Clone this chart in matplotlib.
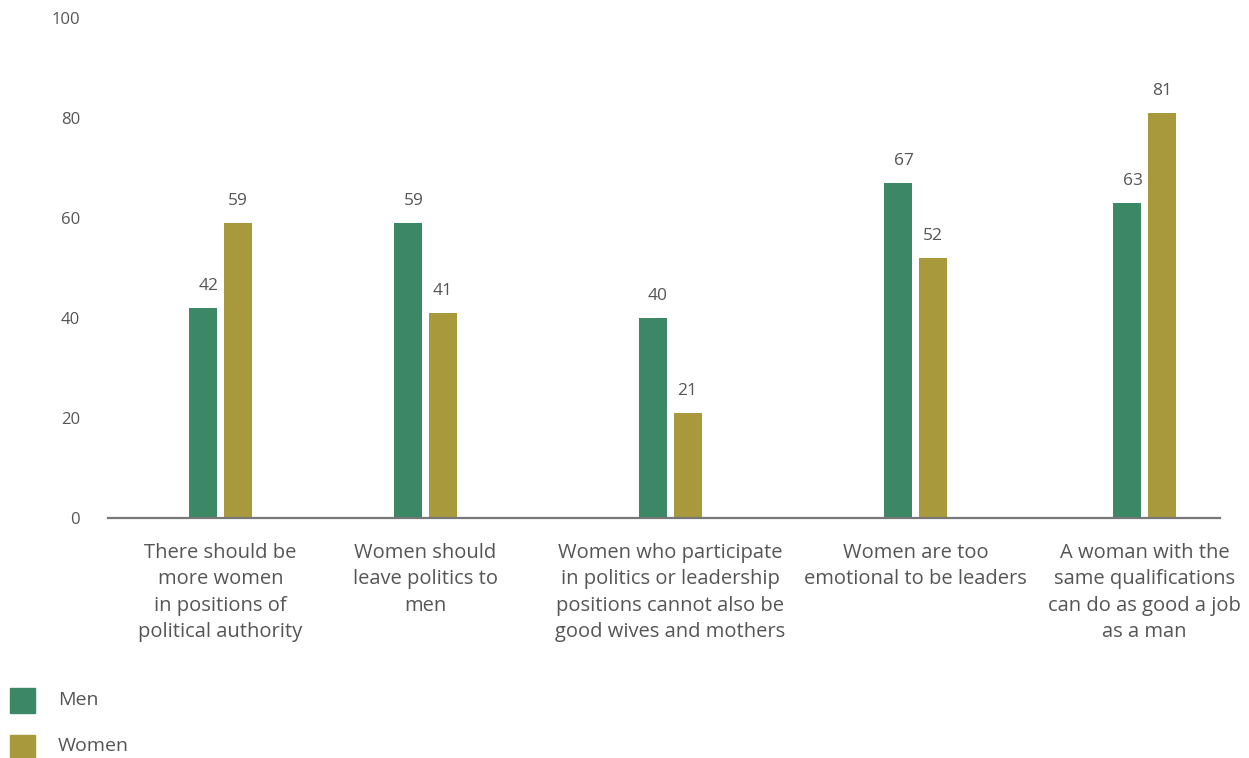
import matplotlib.pyplot as plt
from matplotlib.patches import Rectangle

plt.rcParams['font.family'] = ['Open Sans', 'DejaVu Sans']

categories = [
    "There should be\nmore women\nin positions of\npolitical authority",
    "Women should\nleave politics to\nmen",
    "Women who participate\nin politics or leadership\npositions cannot also be\ngood wives and mothers",
    "Women are too\nemotional to be leaders",
    "A woman with the\nsame qualifications\ncan do as good a job\nas a man",
]
men = [42, 59, 40, 67, 63]
women = [59, 41, 21, 52, 81]
yticks = [0, 20, 40, 60, 80, 100]

# group centres (pixels from the left end of the axis line), uneven like the original
centres = [112.5, 317.5, 562, 807.5, 1036.5]
bar_w = 28
off = 17.5

green = '#3b8766'
olive = '#a89a3c'
grey = '#555555'

fig = plt.figure(figsize=(12.49, 7.58), dpi=100)
ax = fig.add_axes([108 / 1249, 240 / 758, 1112 / 1249, 500 / 758])

xm = [c - off for c in centres]
xw = [c + off for c in centres]
ax.bar(xm, men, width=bar_w, color=green)
ax.bar(xw, women, width=bar_w, color=olive)

for x, v in zip(xm, men):
    ax.annotate(str(v), (x, v), xytext=(4, 10), textcoords='offset points',
                ha='center', va='bottom', fontsize=12.5, color=grey)
for x, v in zip(xw, women):
    ax.annotate(str(v), (x, v), xytext=(0, 10), textcoords='offset points',
                ha='center', va='bottom', fontsize=12.5, color=grey)

ax.set_xlim(0, 1112)
ax.set_ylim(0, 100)
ax.set_yticks(yticks)
ax.set_yticklabels([str(t) for t in yticks], fontsize=12, color=grey)
ax.tick_params(axis='y', length=0, pad=20)
ax.set_xticks(centres)
ax.set_xticklabels(categories, fontsize=14.5, color=grey, linespacing=1.43)
ax.tick_params(axis='x', length=0, pad=18)

for s in ['top', 'right', 'left']:
    ax.spines[s].set_visible(False)
ax.spines['bottom'].set_color('#777777')
ax.spines['bottom'].set_linewidth(1.6)

# legend
fig.patches.append(Rectangle((10 / 1249, 1 - 713 / 758), 25 / 1249, 25 / 758,
                             transform=fig.transFigure, color=green))
fig.patches.append(Rectangle((10 / 1249, 1 - 760 / 758), 25 / 1249, 25 / 758,
                             transform=fig.transFigure, color=olive))
fig.text(58 / 1249, 1 - 700 / 758, 'Men', fontsize=14, color=grey, va='center')
fig.text(58 / 1249, 1 - 746 / 758, 'Women', fontsize=14, color=grey, va='center')

fig.savefig('out.png', dpi=100)
